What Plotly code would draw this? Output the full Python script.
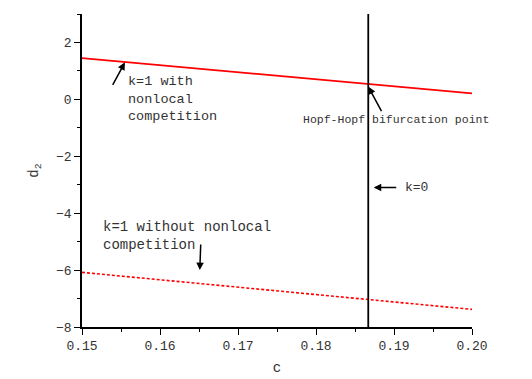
import plotly.graph_objects as go

c_vals = [0.15, 0.20]
d2_with_nonlocal = [1.45, 0.21]
d2_without_nonlocal = [-6.08, -7.38]
c_k0 = [0.1867, 0.1867]
d2_k0 = [-8, 3]
x_ticks = [0.15, 0.16, 0.17, 0.18, 0.19, 0.20]
x_tick_text = ["0.15", "0.16", "0.17", "0.18", "0.19", "0.20"]
y_ticks = [2, 0, -2, -4, -6, -8]
y_tick_text = ["2", "0", "\u22122", "\u22124", "\u22126", "\u22128"]

FONT = "Liberation Mono"

fig = go.Figure()
fig.add_trace(go.Scatter(x=c_vals, y=d2_with_nonlocal, mode="lines",
                         line=dict(color="#ff0000", width=1.6), showlegend=False))
fig.add_trace(go.Scatter(x=c_vals, y=d2_without_nonlocal, mode="lines",
                         line=dict(color="#ff0000", width=1.6, dash="3px,2px"), showlegend=False))
fig.add_trace(go.Scatter(x=c_k0, y=d2_k0, mode="lines",
                         line=dict(color="#000000", width=1.8), showlegend=False))

ann_font = dict(family=FONT, size=13.5, color="#333333")
annotations = [
    dict(x=0.1555, y=1.3, xref="x", yref="y", ax=-13, ay=24, showarrow=True,
         arrowhead=2, arrowsize=1, arrowwidth=1.5, arrowcolor="black", text=""),
    dict(x=0.1557, y=0.95, xref="x", yref="y", text="k=1 with<br>nonlocal<br>competition",
         showarrow=False, xanchor="left", yanchor="top", align="left", font=ann_font),
    dict(x=0.1867, y=0.45, xref="x", yref="y", ax=14, ay=26, showarrow=True,
         arrowhead=2, arrowsize=1, arrowwidth=1.5, arrowcolor="black", text=""),
    dict(x=0.1781, y=-0.7, xref="x", yref="y", text="Hopf-Hopf bifurcation point",
         showarrow=False, xanchor="left", yanchor="middle", align="left",
         font=dict(family=FONT, size=11.5, color="#333333")),
    dict(x=0.1874, y=-3.1, xref="x", yref="y", ax=24, ay=0, showarrow=True,
         arrowhead=2, arrowsize=1, arrowwidth=1.5, arrowcolor="black", text=""),
    dict(x=0.1912, y=-3.1, xref="x", yref="y", text="k=0",
         showarrow=False, xanchor="left", yanchor="middle",
         font=dict(family=FONT, size=13, color="#333333")),
    dict(x=0.1651, y=-6.0, xref="x", yref="y", ax=1, ay=-27, showarrow=True,
         arrowhead=2, arrowsize=1, arrowwidth=1.5, arrowcolor="black", text=""),
    dict(x=0.1524, y=-4.12, xref="x", yref="y", text="k=1 without nonlocal<br>competition",
         showarrow=False, xanchor="left", yanchor="top", align="left",
         font=dict(family=FONT, size=14, color="#333333")),
]

# the page body adds an 8px offset, so margins are shifted to compensate
fig.update_layout(
    width=532, height=379,
    margin=dict(l=74, r=68, t=6, b=60, autoexpand=False),
    paper_bgcolor="white", plot_bgcolor="white",
    font=dict(family=FONT, size=12, color="#333333"),
    annotations=annotations,
    xaxis=dict(range=[0.15, 0.20], tickmode="array", tickvals=x_ticks, ticktext=x_tick_text,
               ticks="outside", ticklen=6, tickwidth=1.3, tickcolor="black", automargin=False,
               minor=dict(ticks="outside", ticklen=3, tickwidth=1.2, tickcolor="black", dtick=0.005),
               showline=True, linecolor="black", linewidth=1.5, showgrid=False, zeroline=False,
               tickfont=dict(family=FONT, size=13, color="#333333"),
               title=dict(text="c", font=dict(family=FONT, size=14, color="#333333"), standoff=9)),
    yaxis=dict(range=[-8, 3], tickmode="array", tickvals=y_ticks, ticktext=y_tick_text,
               ticks="outside", ticklen=6, tickwidth=1.3, tickcolor="black", automargin=False,
               minor=dict(ticks="outside", ticklen=3, tickwidth=1.2, tickcolor="black", dtick=1),
               showline=True, linecolor="black", linewidth=1.5, showgrid=False, zeroline=False,
               tickfont=dict(family=FONT, size=13, color="#333333"),
               title=dict(text="d<sub>2</sub>", font=dict(family=FONT, size=14, color="#333333"), standoff=14)),
)

fig.write_html("out.html")
